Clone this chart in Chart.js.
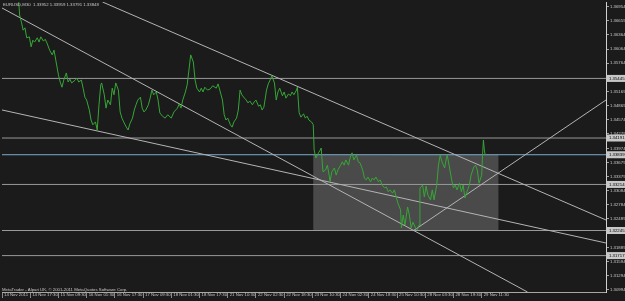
<!DOCTYPE html>
<html><head><meta charset="utf-8">
<script src="https://cdn.jsdelivr.net/npm/chart.js@4.4.1/dist/chart.umd.min.js"></script>
<style>html,body{margin:0;padding:0;background:#1b1b1b;overflow:hidden}</style>
</head><body>
<canvas id="c" width="625" height="301" style="display:block;width:625px;height:301px"></canvas>
<script>
const symbolTitle = "EURUSD,M30  1.33952 1.33959 1.33791 1.33848";
const footerText = "MetaTrader - Alpari UK, \u00A9 2001-2011 MetaQuotes Software Corp.";
const timeLabels = ["14 Nov 2011","14 Nov 17:30","15 Nov 09:30","16 Nov 01:30","16 Nov 17:30","17 Nov 09:30","18 Nov 01:30","18 Nov 17:30","21 Nov 10:30","22 Nov 02:30","22 Nov 18:30","23 Nov 10:30","24 Nov 02:30","24 Nov 18:30","25 Nov 10:30","28 Nov 03:30","28 Nov 19:30","29 Nov 11:30"];
const timeLabelBars = [0,32,64,96,128,160,192,224,256,288,320,352,384,416,448,480,512,544];
const priceTicks = [1.36954,1.36659,1.36364,1.36064,1.35764,1.35464,1.35169,1.34869,1.34574,1.34279,1.33974,1.33679,1.33379,1.33084,1.32784,1.32489,1.32189,1.31889,1.31594,1.31294,1.30994];
const bars = [19,20,22,24,26,28,31,33,35,37,40,42,44,47,49,51,54,57,59,61,64,66,68,70,73,75,77,79,83,85,87,90,92,94,96,99,101,103,106,108,110,112,113,116,118,120,123,125,127,129,132,134,136,138,141,143,145,148,150,152,154,157,159,161,163,166,168,170,172,175,177,179,182,185,188,192,195,199,201,203,205,208,210,212,214,217,219,221,224,226,228,230,233,236,239,243,245,247,250,252,254,256,259,261,263,266,268,270,272,275,277,279,281,284,286,288,291,293,295,297,300,302,304,306,309,311,313,315,318,320,322,325,327,329,331,334,335,337,339,342,344,346,348,351,353,354,356,359,361,362,364,367,369,371,372,374,377,379,381,384,386,388,390,393,395,397,399,402,404,406,409,411,413,415,418,420,422,424,427,429,431,434,436,438,440,443,445,447,449,452,453,455,457,460,462,464,466,469,471,473,474,477,479,481,483,486,488,490,493,495,497,499,502,504,505,507,510,512,514,516,519,521,523,525,528,530,532,535,537,539,541,544,545,546,547,548];
const closes = [1.3705,1.3678,1.3663,1.3646,1.3651,1.3630,1.3632,1.3611,1.3625,1.3621,1.3630,1.3621,1.3632,1.3623,1.3627,1.3619,1.3604,1.3594,1.3604,1.3583,1.3552,1.3537,1.3526,1.3541,1.3556,1.3537,1.3543,1.3535,1.3541,1.3545,1.3537,1.3541,1.3524,1.3505,1.3499,1.3478,1.3457,1.3447,1.3453,1.3436,1.3489,1.3531,1.3535,1.3510,1.3482,1.3499,1.3489,1.3524,1.3510,1.3535,1.3520,1.3474,1.3461,1.3453,1.3442,1.3436,1.3449,1.3461,1.3478,1.3489,1.3499,1.3505,1.3482,1.3474,1.3478,1.3489,1.3503,1.3520,1.3510,1.3516,1.3499,1.3472,1.3465,1.3461,1.3468,1.3461,1.3474,1.3482,1.3491,1.3482,1.3499,1.3516,1.3531,1.3562,1.3594,1.3579,1.3541,1.3524,1.3516,1.3524,1.3516,1.3526,1.3520,1.3522,1.3529,1.3524,1.3533,1.3520,1.3499,1.3468,1.3457,1.3461,1.3447,1.3442,1.3453,1.3461,1.3478,1.3520,1.3510,1.3503,1.3499,1.3493,1.3497,1.3489,1.3495,1.3499,1.3486,1.3489,1.3478,1.3484,1.3520,1.3533,1.3541,1.3550,1.3535,1.3499,1.3516,1.3524,1.3508,1.3516,1.3503,1.3512,1.3508,1.3516,1.3510,1.3520,1.3526,1.3472,1.3463,1.3470,1.3461,1.3465,1.3457,1.3453,1.3447,1.3394,1.3377,1.3388,1.3394,1.3398,1.3348,1.3352,1.3362,1.3341,1.3327,1.3348,1.3356,1.3341,1.3352,1.3362,1.3369,1.3362,1.3373,1.3362,1.3379,1.3388,1.3373,1.3383,1.3369,1.3367,1.3352,1.3335,1.3331,1.3337,1.3327,1.3335,1.3331,1.3337,1.3327,1.3331,1.3320,1.3314,1.3316,1.3306,1.3310,1.3303,1.3310,1.3295,1.3282,1.3268,1.3230,1.3257,1.3236,1.3274,1.3257,1.3230,1.3242,1.3230,1.3226,1.3236,1.3314,1.3320,1.3295,1.3318,1.3299,1.3289,1.3310,1.3289,1.3320,1.3362,1.3383,1.3369,1.3356,1.3377,1.3383,1.3362,1.3331,1.3314,1.3320,1.3310,1.3324,1.3306,1.3320,1.3293,1.3310,1.3320,1.3341,1.3358,1.3362,1.3352,1.3324,1.3341,1.3383,1.3415,1.3394,1.3383];
const levelPrices = [1.35445,1.34191,1.33839,1.33214,1.32245,1.31717];
const levelColors = ["#999999","#999999","#78aecb","#999999","#999999","#999999"];
const trendStartBars = [0,114,0,466];
const trendStartPrices = [1.36927,1.37053,1.34781,1.32235];
const trendEndBars = [596,685,685,685];
const trendEndPrices = [1.30951,1.32466,1.31982,1.34991];
const zoneBars = [353,563];
const zonePrices = [1.32245,1.33839];

const BG = "#1b1b1b";
const FONT = "Liberation Sans, Arial, sans-serif";

const datasets = [];
datasets.push({
  data: bars.map((b,i)=>({x:b,y:closes[i]})),
  borderColor:"#36a636", borderWidth:1, pointRadius:0, tension:0, order:0
});
levelPrices.forEach((p,i)=>{
  datasets.push({data:[{x:0,y:p},{x:685,y:p}], borderColor:levelColors[i], borderWidth:1, pointRadius:0, order:2});
});
trendStartBars.forEach((b,i)=>{
  datasets.push({data:[{x:b,y:trendStartPrices[i]},{x:trendEndBars[i],y:trendEndPrices[i]}], borderColor:"#b4b4b4", borderWidth:1, pointRadius:0, order:1});
});

const decor = {
  id:"decor",
  beforeDraw(chart){
    const c = chart.ctx;
    c.save(); c.fillStyle = BG; c.fillRect(0,0,chart.width,chart.height); c.restore();
  },
  beforeDatasetsDraw(chart){
    const c = chart.ctx, xs = chart.scales.x, ys = chart.scales.y;
    const x0 = xs.getPixelForValue(zoneBars[0]), x1 = xs.getPixelForValue(zoneBars[1]);
    const y0 = ys.getPixelForValue(zonePrices[1]), y1 = ys.getPixelForValue(zonePrices[0]);
    c.save(); c.fillStyle = "#4a4a4a"; c.fillRect(x0,y0,x1-x0,y1-y0); c.restore();
  },
  afterDraw(chart){
    const c = chart.ctx, ys = chart.scales.y, a = chart.chartArea;
    c.save();
    c.font = "4.3px " + FONT;
    c.textBaseline = "middle";
    levelPrices.forEach((p,i)=>{
      const y = ys.getPixelForValue(p);
      c.fillStyle = "#c8c8c8";
      c.fillRect(a.right, y-3.5, chart.width-a.right, 7);
      c.fillStyle = "#000000";
      c.fillText(p.toFixed(5), a.right+3, y);
    });
    c.fillStyle = "#c8c8c8";
    c.font = "4.3px " + FONT;
    c.textBaseline = "middle";
    c.fillText(symbolTitle, 3, 5);
    c.fillText(footerText, 2, 289.5);
    c.restore();
  }
};

new Chart(document.getElementById("c"), {
  type:"line",
  data:{datasets},
  plugins:[decor],
  options:{
    responsive:false, animation:false, devicePixelRatio:1, events:[],
    layout:{padding:{left:2,top:2,right:0,bottom:0}},
    plugins:{legend:{display:false}, tooltip:{enabled:false}},
    scales:{
      x:{type:"linear", position:"bottom", min:0, max:685,
        afterBuildTicks:s=>{s.ticks = timeLabelBars.map(v=>({value:v}));},
        afterFit:s=>{s.height = 9; s.paddingLeft = 0; s.paddingRight = 0;},
        grid:{drawOnChartArea:false, drawTicks:true, tickLength:6, color:"#8a8a8a"},
        border:{display:true, color:"#a8a8a8"},
        ticks:{autoSkip:false, maxRotation:0, minRotation:0, align:"start", padding:-6, labelOffset:2,
          color:"#c8c8c8", font:{family:FONT, size:4.3},
          callback:(v)=>{const i = timeLabelBars.indexOf(v); return i>=0 ? timeLabels[i] : "";}}
      },
      y:{type:"linear", position:"right", min:1.30951, max:1.37053,
        afterBuildTicks:s=>{s.ticks = priceTicks.map(v=>({value:v}));},
        afterFit:s=>{s.width = 19; s.paddingTop = 0; s.paddingBottom = 0;},
        grid:{drawOnChartArea:false, drawTicks:true, tickLength:3, color:"#a0a0a0"},
        border:{display:true, color:"#d0d0d0"},
        ticks:{padding:1, color:"#c8c8c8", font:{family:FONT, size:4.3},
          callback:(v)=>Number(v).toFixed(5)}
      }
    }
  }
});
</script>
</body></html>
